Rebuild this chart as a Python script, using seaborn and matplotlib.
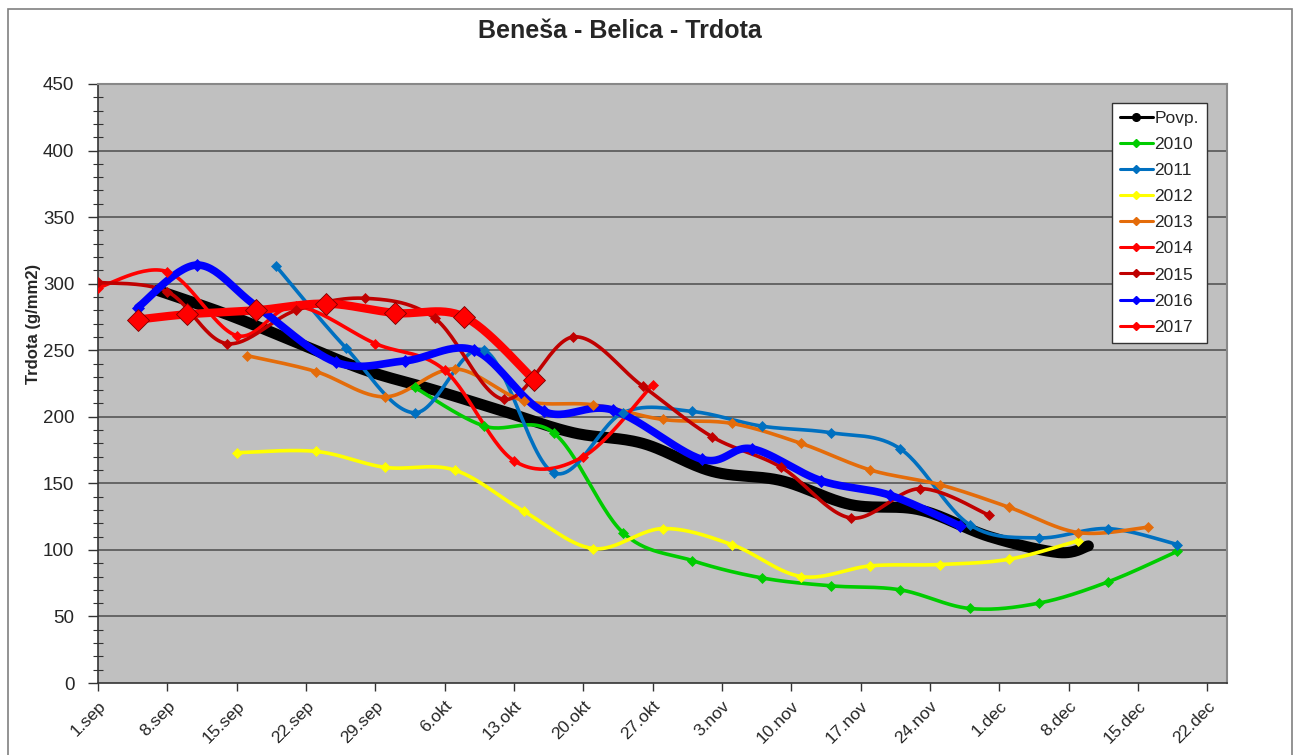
import numpy as np
import pandas as pd
import matplotlib
matplotlib.use('Agg')
import matplotlib.pyplot as plt
import seaborn as sns
from matplotlib.patches import Rectangle
from matplotlib.ticker import MultipleLocator

# Days counted from 1.sep (0 = 1.sep)
tick_days = list(range(0, 113, 7))
tick_labels = ['1.sep', '8.sep', '15.sep', '22.sep', '29.sep', '6.okt', '13.okt', '20.okt',
               '27.okt', '3.nov', '10.nov', '17.nov', '24.nov', '1.dec', '8.dec', '15.dec', '22.dec']

povp_days = [6, 13, 20, 27, 34, 41, 48, 55, 62, 69, 76, 83, 90, 97, 100]
povp_vals = [295, 277, 256, 235, 220, 204, 188, 180, 159, 152, 134, 130, 110, 98, 103]

y2010_days = [32, 39, 46, 53, 60, 67, 74, 81, 88, 95, 102, 109]
y2010_vals = [222, 193, 188, 113, 92, 79, 73, 70, 56, 60, 76, 99]

y2011_days = [18, 25, 32, 39, 46, 53, 60, 67, 74, 81, 88, 95, 102, 109]
y2011_vals = [313, 252, 203, 250, 158, 203, 204, 193, 188, 176, 119, 109, 116, 104]

y2012_days = [14, 22, 29, 36, 43, 50, 57, 64, 71, 78, 85, 92, 99]
y2012_vals = [173, 174, 162, 160, 129, 101, 116, 104, 80, 88, 89, 93, 107]

y2013_days = [15, 22, 29, 36, 43, 50, 57, 64, 71, 78, 85, 92, 99, 106]
y2013_vals = [246, 234, 215, 236, 212, 209, 198, 195, 180, 160, 149, 132, 113, 117]

y2014_days = [0, 7, 14, 20, 28, 35, 42, 49, 56]
y2014_vals = [297, 309, 261, 283, 255, 235, 167, 170, 224]

y2015_days = [0, 7, 13, 20, 27, 34, 41, 48, 55, 62, 69, 76, 83, 90]
y2015_vals = [301, 294, 255, 280, 289, 274, 213, 260, 223, 185, 162, 124, 146, 126]

y2016_days = [4, 10, 16, 24, 31, 38, 45, 52, 61, 66, 73, 80, 87]
y2016_vals = [282, 314, 283, 241, 242, 250, 204, 205, 168, 176, 152, 141, 118]

y2017_days = [4, 9, 16, 23, 30, 37, 44]
y2017_vals = [273, 277, 280, 285, 278, 275, 228]

series = [
    # label, days, values, color, linewidth, marker, markersize
    ('Povp.', povp_days, povp_vals, '#000000', 8.0, 'o', 0),
    ('2010', y2010_days, y2010_vals, '#00CC00', 2.6, 'D', 5),
    ('2011', y2011_days, y2011_vals, '#0070C0', 2.6, 'D', 5),
    ('2012', y2012_days, y2012_vals, '#FFFF00', 2.6, 'D', 5),
    ('2013', y2013_days, y2013_vals, '#E46C0A', 2.6, 'D', 5),
    ('2014', y2014_days, y2014_vals, '#FF0000', 2.6, 'D', 5),
    ('2015', y2015_days, y2015_vals, '#C00000', 2.6, 'D', 5),
    ('2016', y2016_days, y2016_vals, '#0000FF', 5.5, 'D', 6),
    ('2017', y2017_days, y2017_vals, '#FF0000', 6.0, 'D', 11),
]


def smooth(xs, ys, n=30):
    '''Excel-like smoothed line: cubic Bezier segments with Catmull-Rom tangents.'''
    p = np.column_stack([xs, ys]).astype(float)
    out = [p[0]]
    t = np.linspace(0, 1, n)[1:, None]
    for i in range(len(p) - 1):
        p0 = p[i - 1] if i > 0 else p[i]
        p3 = p[i + 2] if i + 2 < len(p) else p[i + 1]
        c1 = p[i] + (p[i + 1] - p0) / 6
        c2 = p[i + 1] - (p3 - p[i]) / 6
        seg = ((1 - t) ** 3) * p[i] + 3 * ((1 - t) ** 2) * t * c1 + 3 * (1 - t) * t ** 2 * c2 + t ** 3 * p[i + 1]
        out.extend(seg)
    out = np.array(out)
    return out[:, 0], out[:, 1]


sns.set_style('white')
plt.rcParams['font.family'] = ['Liberation Sans', 'DejaVu Sans']

fig = plt.figure(figsize=(12.97, 7.55), dpi=100)
ax = fig.add_axes([98 / 1297, 1 - 683 / 755, (1227 - 98) / 1297, (683 - 84) / 755])
ax.set_facecolor('#C0C0C0')

# outer chart frame
fig.patches.append(Rectangle((8 / 1297, -0.02), (1292 - 8) / 1297, 1 - 9 / 755 + 0.02,
                             transform=fig.transFigure, fill=False, edgecolor='#808080', linewidth=1.2))

for y in range(50, 451, 50):
    ax.axhline(y, color='#4d4d4d', linewidth=1.1, zorder=1)

handles = []
for label, days, vals, color, lw, marker, ms in series:
    sx, sy = smooth(days, vals)
    df = pd.DataFrame({'day': sx, 'val': sy})
    sns.lineplot(data=df, x='day', y='val', ax=ax, color=color, linewidth=lw, sort=False,
                 estimator=None, zorder=3, solid_capstyle='round')
    if ms > 0:
        ax.plot(days, vals, linestyle='none', marker=marker, markersize=ms, color=color,
                markeredgecolor='#7a0000' if label == '2017' else color,
                markeredgewidth=0.6 if label == '2017' else 0.5, zorder=4)
    h, = ax.plot([], [], color=color, linewidth=2.2, marker='o' if label == 'Povp.' else 'D',
                 markersize=5.5 if label == 'Povp.' else 4.5)
    handles.append((h, label))

ax.set_xlim(0, 114)
ax.set_ylim(0, 450)
ax.set_xticks(tick_days)
ax.set_xticklabels(tick_labels, rotation=45, ha='right', rotation_mode='anchor', fontsize=12.5)
ax.yaxis.set_major_locator(MultipleLocator(50))
ax.yaxis.set_minor_locator(MultipleLocator(10))
ax.tick_params(axis='y', which='major', direction='out', length=7, width=1, color='#333333',
               labelsize=13.5, pad=10, left=True)
ax.tick_params(axis='y', which='minor', direction='inout', length=7, width=0.8, color='#333333', left=True)
ax.tick_params(axis='x', which='major', direction='out', length=6, width=1, color='#333333',
               pad=5, bottom=True)
ax.set_xlabel('')
ax.set_ylabel('Trdota (g/mm2)', fontsize=12, fontweight='bold')
ax.yaxis.set_label_coords((41 - 98) / (1227 - 98), 0.6)

for side in ['left', 'bottom']:
    ax.spines[side].set_color('#333333')
    ax.spines[side].set_linewidth(1.2)
for side in ['right', 'top']:
    ax.spines[side].set_color('#888888')
    ax.spines[side].set_linewidth(1.5)

fig.text(620 / 1297, 1 - 31 / 755, 'Beneša - Belica - Trdota', ha='center', va='center',
         fontsize=18, fontweight='bold')

leg = ax.legend([h for h, _ in handles], [l for _, l in handles], loc='upper left',
                bbox_to_anchor=((1112 - 98) / (1227 - 98), 1 - (103 - 84) / (683 - 84)),
                frameon=True, fancybox=False, framealpha=1, edgecolor='#333333',
                fontsize=12.5, handlelength=1.9, handletextpad=0.1, labelspacing=0.63,
                borderpad=0.45, borderaxespad=0)
leg.get_frame().set_linewidth(1.0)

fig.savefig('out.png', dpi=100)
